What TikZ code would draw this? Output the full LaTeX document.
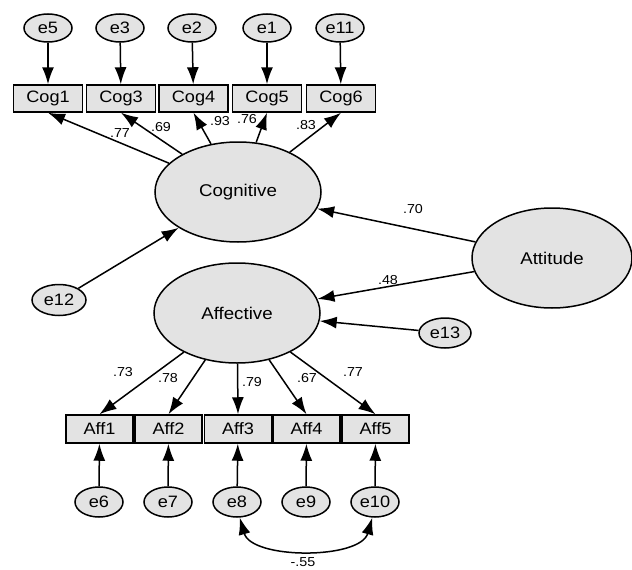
\documentclass[tikz,border=0pt]{standalone}
\usepackage{fontspec}
\setmainfont{Liberation Sans}[FakeStretch=1.1]
\usetikzlibrary{arrows.meta,shapes.geometric}

\begin{document}
\begin{tikzpicture}[x=1pt, y=-1pt,
		latent/.style={ellipse, draw, line width=1.5pt, fill=black!11,
			minimum width=166pt, minimum height=100pt, inner sep=0pt,
			font=\fontsize{17}{19}\selectfont},
		err/.style={ellipse, draw, line width=1.5pt, fill=black!11,
			minimum width=48pt, minimum height=28pt, inner sep=0pt,
			font=\fontsize{16.5}{18}\selectfont},
		obs/.style={rectangle, draw, line width=1.5pt, fill=black!11,
			minimum width=69pt, minimum height=27pt, inner sep=0pt,
			font=\fontsize{16.5}{18}\selectfont},
		effect/.style={-{Latex[length=17pt,width=12pt]}, line width=1.5pt},
		cov/.style={{Latex[length=17pt,width=12pt]}-{Latex[length=17pt,width=12pt]}, line width=1.5pt},
		lbl/.style={font=\fontsize{13}{15}\selectfont, inner sep=0pt}]
		\fill[white] (0,0) rectangle (632,570);
		\useasboundingbox (0,0) rectangle (632,570);

		% Latente variabler
		\node[latent] (cog) at (238,192) {Cognitive};
		\node[latent] (aff) at (237,313) {Affective};
		\node[latent, minimum width=160pt] (att) at (552,258) {Attitude};

		% Kognitive indikatorer
		\node[obs] (cog1) at (48,98.5) {Cog1};
		\node[obs] (cog3) at (121,98.5) {Cog3};
		\node[obs] (cog4) at (193.5,98.5) {Cog4};
		\node[obs] (cog5) at (267,98.5) {Cog5};
		\node[obs] (cog6) at (341,98.5) {Cog6};

		\node[err] (e5) at (48,28) {e5};
		\node[err] (e3) at (120,28) {e3};
		\node[err] (e2) at (192,28) {e2};
		\node[err] (e1) at (267,28) {e1};
		\node[err] (e11) at (340,28) {e11};

		\draw[effect] (e5) -- (cog1);
		\draw[effect] (e3) -- (cog3);
		\draw[effect] (e2) -- (cog4);
		\draw[effect] (e1) -- (cog5);
		\draw[effect] (e11) -- (cog6);

		\draw[effect] (cog) -- (cog1.south);
		\draw[effect] (cog) -- (cog3.south);
		\draw[effect] (cog) -- (cog4.south);
		\draw[effect] (cog) -- (cog5.south);
		\draw[effect] (cog) -- (cog6.south);

		\node[lbl] (l77) at (120,133) {.77};
		\node[lbl] (l69) at (161,127) {.69};
		\node[lbl] (l93) at (220,121) {.93};
		\node[lbl] (l76) at (247,119) {.76};
		\node[lbl] (l83) at (306,125) {.83};

		% Affektive indikatorer
		\node[obs, minimum width=67pt, minimum height=28pt] (aff1) at (99.5,429) {Aff1};
		\node[obs, minimum width=67pt, minimum height=28pt] (aff2) at (168.5,429) {Aff2};
		\node[obs, minimum width=67pt, minimum height=28pt] (aff3) at (238,429) {Aff3};
		\node[obs, minimum width=67pt, minimum height=28pt] (aff4) at (306.5,429) {Aff4};
		\node[obs, minimum width=67pt, minimum height=28pt] (aff5) at (375.5,429) {Aff5};

		\node[err, minimum height=30pt] (e6) at (99,502) {e6};
		\node[err, minimum height=30pt] (e7) at (168,502) {e7};
		\node[err, minimum height=30pt] (e8) at (237,502) {e8};
		\node[err, minimum height=30pt] (e9) at (306,502) {e9};
		\node[err, minimum height=30pt] (e10) at (375,502) {e10};

		\draw[effect] (e6) -- (aff1);
		\draw[effect] (e7) -- (aff2);
		\draw[effect] (e8) -- (aff3);
		\draw[effect] (e9) -- (aff4);
		\draw[effect] (e10) -- (aff5);

		\draw[effect] (aff) -- (aff1.north);
		\draw[effect] (aff) -- (aff2.north);
		\draw[effect] (aff) -- (aff3.north);
		\draw[effect] (aff) -- (aff4.north);
		\draw[effect] (aff) -- (aff5.north);

		\node[lbl] (l73) at (123,372) {.73};
		\node[lbl] (l78) at (168,378) {.78};
		\node[lbl] (l79) at (252,382) {.79};
		\node[lbl] (l67) at (307,378) {.67};
		\node[lbl] (l77b) at (353,372) {.77};

		% Korrelerte feil
		\draw[cov] (e8.280) .. controls +(12,42) and +(-12,42) .. (e10.260);
		\node[lbl] (l55) at (303,562) {-.55};

		% Strukturdel
		\node[err, minimum width=54pt, minimum height=31pt] (e12) at (59,300) {e12};
		\node[err, minimum width=52pt, minimum height=30pt] (e13) at (445,333) {e13};

		\draw[effect] (e12) -- (cog);
		\draw[effect] (e13) -- (aff);
		\draw[effect] (att) -- (cog);
		\draw[effect] (att) -- (aff);

		\node[lbl] (l70) at (413,209) {.70};
		\node[lbl] (l48) at (388,280) {.48};
	\end{tikzpicture}
\end{document}
